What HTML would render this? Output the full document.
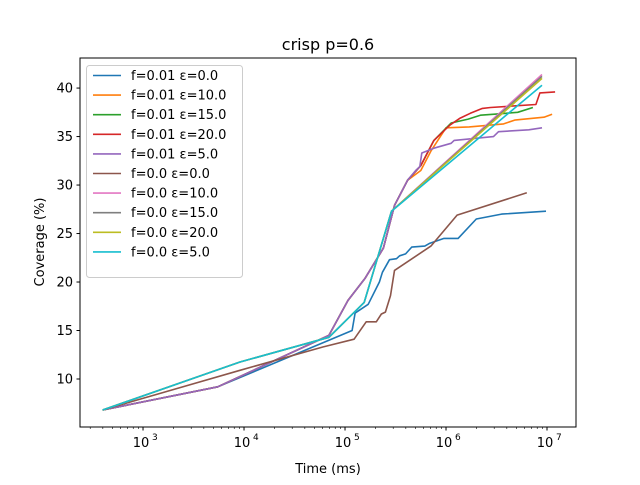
<!DOCTYPE html>
<html><head><meta charset="utf-8"><style>
body{margin:0;background:#fff;font-family:"Liberation Sans","DejaVu Sans",sans-serif}
svg text{font-family:"DejaVu Sans","Liberation Sans",sans-serif}
</style></head><body>
<svg id="chart" width="640" height="480" viewBox="0 0 640 480">
<rect width="640" height="480" fill="#fff"/>
<text x="328" y="50" font-size="16" text-anchor="middle">crisp p=0.6</text>
<g id="grid"></g>
<g id="series"></g>
<rect x="80" y="58" width="496" height="369" fill="none" stroke="#000" stroke-width="1"/>
<g id="axes"></g>
<text x="328" y="473" font-size="13" text-anchor="middle">Time (ms)</text>
<text transform="translate(44,242) rotate(-90)" font-size="13" text-anchor="middle">Coverage (%)</text>
<g id="legend"></g>
</svg>
<script>
const seriesNames=["f=0.01 ε=0.0","f=0.01 ε=10.0","f=0.01 ε=15.0","f=0.01 ε=20.0","f=0.01 ε=5.0","f=0.0 ε=0.0","f=0.0 ε=10.0","f=0.0 ε=15.0","f=0.0 ε=20.0","f=0.0 ε=5.0"];
const colors=["#1f77b4","#ff7f0e","#2ca02c","#d62728","#9467bd","#8c564b","#e377c2","#7f7f7f","#bcbd22","#17becf"];
// x values are log10(time in ms)
const sBlueX=[2.6,3.74,4.84,5.07,5.1,5.23,5.34,5.37,5.44,5.51,5.54,5.6,5.66,5.79,5.84,5.98,6.12,6.3,6.55,6.99];
const sBlueY=[6.8,9.2,14.0,15.0,16.8,17.7,20.0,21.0,22.3,22.4,22.7,22.9,23.6,23.7,24.0,24.5,24.5,26.5,27.0,27.3];
const sOrangeX=[2.6,3.74,4.84,5.03,5.2,5.38,5.49,5.62,5.75,5.85,6.0,6.23,6.57,6.68,6.97,7.05];
const sOrangeY=[6.8,9.2,14.5,18.1,20.4,23.5,27.9,30.5,31.5,33.5,35.9,36.0,36.3,36.7,37.0,37.3];
const sGreenX=[2.6,3.74,4.84,5.03,5.2,5.38,5.49,5.62,5.75,5.88,6.05,6.22,6.34,6.48,6.71,6.86];
const sGreenY=[6.8,9.2,14.5,18.1,20.4,23.5,27.9,30.5,32.0,34.6,36.4,36.8,37.2,37.3,37.5,38.0];
const sRedX=[2.6,3.74,4.84,5.03,5.2,5.38,5.49,5.62,5.75,5.88,6.04,6.14,6.24,6.36,6.44,6.89,6.93,7.08];
const sRedY=[6.8,9.2,14.5,18.1,20.4,23.5,27.9,30.5,32.0,34.6,36.2,36.9,37.4,37.9,38.0,38.3,39.5,39.6];
const sPurpleX=[2.6,3.74,4.84,5.03,5.2,5.38,5.49,5.62,5.7,5.74,5.76,5.88,6.05,6.08,6.47,6.52,6.82,6.95];
const sPurpleY=[6.8,9.2,14.5,18.1,20.4,23.5,27.9,30.5,31.5,31.9,33.3,33.8,34.3,34.6,35.0,35.5,35.7,35.9];
const sBrownX=[2.6,3.96,4.78,5.09,5.21,5.31,5.36,5.4,5.45,5.49,5.85,6.11,6.8];
const sBrownY=[6.8,10.9,13.3,14.1,15.9,15.9,16.7,16.9,18.6,21.2,23.7,26.9,29.2];
const sPinkX=[2.6,3.96,4.84,5.19,5.46,6.95];const sPinkY=[6.8,11.75,14.3,17.9,27.3,41.4];
const sGrayX=[2.6,3.96,4.84,5.19,5.46,6.95];const sGrayY=[6.8,11.75,14.3,17.9,27.3,41.2];
const sOliveX=[2.6,3.96,4.84,5.19,5.46,6.95];const sOliveY=[6.8,11.75,14.3,17.9,27.3,41.0];
const sCyanX=[2.6,3.96,4.84,5.19,5.46,6.95];const sCyanY=[6.8,11.75,14.3,17.9,27.3,40.3];
const yTicks=[10,15,20,25,30,35,40];
const xTickExp=[3,4,5,6,7];

const X0=80,X1=576,Y0=58,Y1=427,xmin=2.376,xmax=7.287,ymin=5.05,ymax=43.1;
function xs(l){return X0+(l-xmin)/(xmax-xmin)*(X1-X0);}
function ys(v){return Y1-(v-ymin)/(ymax-ymin)*(Y1-Y0);}
const NS="http://www.w3.org/2000/svg";
function mk(t,a,p){const e=document.createElementNS(NS,t);for(const k in a)e.setAttribute(k,a[k]);p.appendChild(e);return e;}
const ax=document.getElementById('axes');
yTicks.forEach(v=>{const y=ys(v);
 const t=mk('line',{x1:76.5,x2:80,y1:y,y2:y,stroke:'#000'},ax);
 
 
 const l=mk('text',{x:73,y:y+4.5,'font-size':13,'text-anchor':'end'},ax);l.textContent=v;
 
 });
for(let e=2;e<=7;e++)for(let m=1;m<10;m++){const l=e+Math.log10(m);if(l<xmin||l>xmax)continue;const x=xs(l);
 const t=mk('line',{x1:x,x2:x,y1:427,y2:m==1?430.5:429,stroke:'#000','stroke-width':m==1?1:0.6},ax);
 
 }
xTickExp.forEach(e=>{const x=xs(e);
 const l=mk('text',{x:x-2,y:447,'font-size':13,'text-anchor':'middle'},ax);l.textContent='10';
 
 
 const s=mk('text',{x:x+9,y:440,'font-size':9},ax);s.textContent=e;});
const allX=[sBlueX,sOrangeX,sGreenX,sRedX,sPurpleX,sBrownX,sPinkX,sGrayX,sOliveX,sCyanX];
const allY=[sBlueY,sOrangeY,sGreenY,sRedY,sPurpleY,sBrownY,sPinkY,sGrayY,sOliveY,sCyanY];
const sg=document.getElementById('series');
allX.forEach((xa,i)=>{const pts=xa.map((x,j)=>xs(x).toFixed(1)+','+ys(allY[i][j]).toFixed(1)).join(' ');
 const p=mk('polyline',{points:pts,fill:'none',stroke:colors[i],'stroke-width':1.6,'stroke-linejoin':'round'},sg);
 
 });
const lg=document.getElementById('legend');
const box=mk('rect',{x:86.5,y:65.5,width:156,height:212,rx:3,fill:'#fff','fill-opacity':0.8,stroke:'#ccc'},lg);


seriesNames.forEach((n,i)=>{const y=75.5+i*19.6;
 const g=mk('g',{},lg);
 
 
 mk('line',{x1:93,x2:121,y1:y,y2:y,stroke:colors[i],'stroke-width':1.6},g);
 const t=mk('text',{x:131,y:y+4.5,'font-size':13},g);t.textContent=n;});
</script>
</body></html>
